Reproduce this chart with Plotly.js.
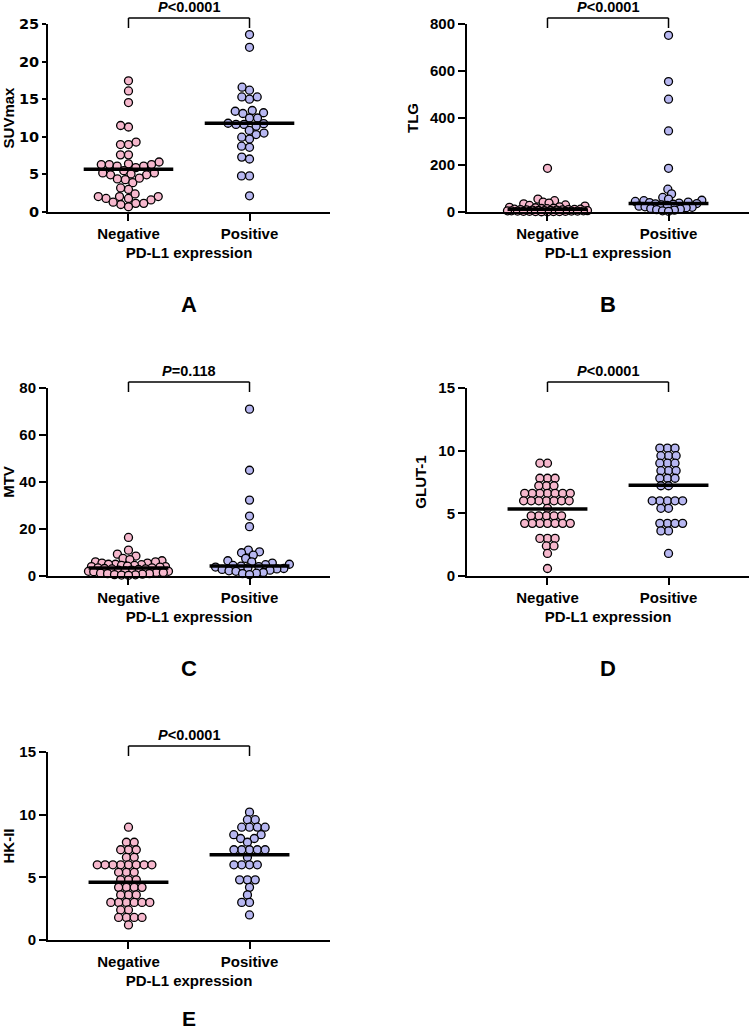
<!DOCTYPE html>
<html><head><meta charset="utf-8">
<script src="https://cdn.plot.ly/plotly-3.0.1.min.js"></script>
<style>html,body{margin:0;padding:0;background:#fff}#chart{width:751px;height:1030px}</style>
</head><body><div id="chart"></div>
<script>
// ---------- data ----------
const groups = ['Negative', 'Positive'];
const xTitle = 'PD-L1 expression';
const panelLetters = ['A', 'B', 'C', 'D', 'E'];
const yTitles = ['SUVmax', 'TLG', 'MTV', 'GLUT-1', 'HK-II'];
const pLabels = ['&lt;0.0001', '&lt;0.0001', '=0.118', '&lt;0.0001', '&lt;0.0001'];
const yMax = [25, 800, 80, 15, 15];
const yDtick = [5, 200, 20, 5, 5];

const suvNeg = [17.45, 16.1, 14.55, 11.3, 11.5, 8.97, 8.97, 9.3, 7.6, 7.6, 6.3, 6.4, 6.1, 6.65, 6.3, 5.9, 6.3, 6.1,
  4.95, 5.2, 5.2, 5.5, 4.95, 5.05, 4.3, 3.9, 4.4, 4.5, 3.0, 3.2, 1.8, 2.05, 2.05, 1.6, 1.8, 2.4, 2.05, 1.0, 1.15, 1.3, 0.7, 1.15];
const suvPos = [23.6, 21.9, 16.6, 16.2, 15.3, 15.3, 15.0, 13.4, 13.1, 13.2, 13.5, 12.5, 12.5, 11.65, 11.65, 11.75, 11.8, 11.4,
  10.5, 10.3, 10.85, 9.95, 9.7, 8.75, 8.6, 7.3, 7.05, 4.8, 4.8, 2.15];

const tlgNeg = [186, 55, 48, 42, 38, 35, 30, 28, 25, 22, 20, 18, 16, 15, 14, 12, 12, 11, 10, 10, 9, 9, 8, 8, 7, 7, 6, 6,
  5, 5, 5, 4, 4, 4, 3, 3, 3, 2, 2, 2, 1, 1];
const tlgPos = [752, 555, 480, 345, 186, 97, 77, 62, 55, 50, 48, 45, 42, 40, 38, 36, 35, 33, 30, 28, 25, 22, 20, 18, 15,
  12, 10, 8, 5, 3];

const mtvNeg = [16.4, 11, 9.3, 8.5, 7.5, 7, 6.5, 6, 6, 5.5, 5.5, 5, 5, 4.8, 4.5, 4.5, 4.2, 4, 4, 3.8, 3.5, 3.5, 3.2, 3, 3,
  2.8, 2.5, 2.5, 2.2, 2, 2, 1.8, 1.5, 1.5, 1.2, 1, 1, 0.8, 0.6, 0.5, 0.4, 0.3];
const mtvPos = [71, 45, 32.3, 25.5, 21, 11, 10.3, 9.9, 8.9, 7.5, 6.5, 6, 5.5, 5, 4.8, 4.5, 4.2, 4, 3.8, 3.5, 3.2, 3, 2.8,
  2.5, 2.2, 2, 1.5, 1.2, 1, 0.6];

const glutNeg = [9.0, 9.0, 7.8, 7.8, 7.8, 7.2, 7.2, 7.2, 6.6, 6.6, 6.6, 6.6, 6.6, 6.6, 6.6, 6.0, 6.0, 6.0, 6.0, 6.0, 6.0, 6.0,
  5.4, 4.8, 4.8, 4.8, 4.8, 4.8, 4.2, 4.2, 4.2, 4.2, 4.2, 4.2, 4.2, 3.0, 3.0, 3.0, 2.4, 2.4, 1.8, 0.6];
const glutPos = [10.2, 10.2, 10.2, 9.6, 9.6, 9.6, 9.0, 9.0, 9.0, 8.4, 8.4, 8.4, 7.8, 7.8, 7.8, 7.2, 7.2, 6.0, 6.0, 6.0, 6.0, 6.0,
  5.4, 5.4, 4.2, 4.2, 4.2, 4.2, 3.6, 3.6, 1.8];

const hkNeg = [9.0, 7.8, 7.8, 7.2, 7.2, 7.2, 6.6, 6.6, 6.0, 6.0, 6.0, 6.0, 6.0, 6.0, 6.0, 6.0, 5.4, 5.4, 5.4, 4.8, 4.8, 4.8,
  4.2, 4.2, 4.2, 4.2, 3.6, 3.6, 3.6, 3.0, 3.0, 3.0, 3.0, 3.0, 3.0, 2.4, 2.4, 1.8, 1.8, 1.8, 1.8, 1.2];
const hkPos = [10.2, 9.6, 9.6, 9.0, 9.0, 9.0, 9.0, 8.4, 8.4, 8.1, 8.1, 7.8, 7.2, 7.2, 7.2, 7.2, 7.2, 6.6, 6.0, 6.0, 6.0, 6.0,
  4.8, 4.8, 4.8, 4.2, 3.6, 3.0, 3.0, 2.0];

const negSeries = [suvNeg, tlgNeg, mtvNeg, glutNeg, hkNeg];
const posSeries = [suvPos, tlgPos, mtvPos, glutPos, hkPos];
const medNeg = [5.7, 12, 3.4, 5.35, 4.6];
const medPos = [11.8, 36, 4.3, 7.25, 6.8];

// ---------- style / geometry ----------
const W = 751, H = 1030;
const FONT = 'Liberation Sans, Arial, Helvetica, sans-serif';
const pink = '#f6b8cd', blue = '#b7b7f1';
const xRange = [-0.665, 1.665];
const cols = [[48, 330], [467, 749]];
const rowTop = [24, 388, 752], plotH = 188;
const swarmDist = [8, 6, 7, 7.6, 7.8];
const swarmCap = [46, 40, 40, 44, 44];
const medHalf = [0.37, 0.33, 0.33, 0.33, 0.33];
const letterShift = [-92, -92, -92, -92, -78];

function swarm(values, pxPerY, D, cap) {
  const idx = values.map((v, i) => i).sort((a, b) => values[a] - values[b]);
  const placed = [], xs = new Array(values.length);
  for (const i of idx) {
    const y = values[i] * pxPerY;
    const nb = placed.filter(p => Math.abs(p.y - y) < D);
    const cands = [0];
    nb.forEach(p => { const dx = Math.sqrt(D * D - (p.y - y) ** 2); cands.push(p.x + dx, p.x - dx); });
    cands.sort((a, b) => (Math.abs(a) - Math.abs(b)) || (a - b));
    let best = null;
    for (const c of cands) {
      if (nb.every(p => (p.x - c) ** 2 + (p.y - y) ** 2 >= D * D - 1e-6)) { best = c; break; }
    }
    if (best === null || Math.abs(best) > cap) {
      let bestScore = -1, bx = 0;
      for (let c = -cap; c <= cap + 1e-9; c += 0.5) {
        let md = Infinity;
        nb.forEach(p => { md = Math.min(md, Math.hypot(p.x - c, p.y - y)); });
        if (md > bestScore + 1e-9 || (Math.abs(md - bestScore) < 1e-9 && Math.abs(c) < Math.abs(bx))) { bestScore = md; bx = c; }
      }
      best = bx;
    }
    placed.push({ x: best, y }); xs[i] = best;
  }
  return xs;
}

const data = [], layout = {
  width: W, height: H, margin: { l: 0, r: 0, t: 0, b: 0 },
  paper_bgcolor: '#fff', plot_bgcolor: '#fff', showlegend: false,
  font: { family: FONT, color: '#000' },
  shapes: [], annotations: []
};

for (let k = 0; k < 5; k++) {
  const col = k % 2, row = Math.floor(k / 2);
  const [x0, x1] = cols[col];
  const top = rowTop[row], bot = top + plotH;
  const n = k === 0 ? '' : String(k + 1);
  const xa = 'x' + n, ya = 'y' + n;
  const pxPerY = plotH / yMax[k];
  const pxPerCat = (x1 - x0) / (xRange[1] - xRange[0]);
  [negSeries[k], posSeries[k]].forEach((vals, g) => {
    const off = swarm(vals, pxPerY, swarmDist[k], swarmCap[k]);
    data.push({
      type: 'scatter', mode: 'markers', xaxis: xa, yaxis: ya, cliponaxis: false,
      x: off.map(o => g + o / pxPerCat), y: vals, name: groups[g],
      marker: { size: 8, color: g === 0 ? pink : blue, line: { color: '#000', width: 1.3 } },
      hoverinfo: 'y'
    });
  });
  const h = medHalf[k];
  data.push({
    type: 'scatter', mode: 'lines', xaxis: xa, yaxis: ya, cliponaxis: false,
    x: [0 - h, 0 + h, null, 1 - h, 1 + h], y: [medNeg[k], medNeg[k], null, medPos[k], medPos[k]],
    line: { color: '#000', width: 3.5 }, hoverinfo: 'skip'
  });

  const axBase = { showline: true, linecolor: '#000', linewidth: 2, ticks: 'outside', tickcolor: '#000',
    tickwidth: 2, showgrid: false, zeroline: false, fixedrange: true };
  layout['xaxis' + n] = Object.assign({}, axBase, {
    domain: [x0 / W, x1 / W], anchor: ya, range: xRange, tickvals: [0, 1], ticktext: groups,
    ticklen: 7, ticklabelstandoff: 0,
    tickfont: { family: FONT, size: 15, weight: 'bold', color: '#000' },
    title: { text: xTitle, standoff: 6, font: { family: FONT, size: 15, weight: 'bold', color: '#000' } }
  });
  layout['yaxis' + n] = Object.assign({}, axBase, {
    domain: [1 - bot / H, 1 - top / H], anchor: xa, range: [0, yMax[k]], dtick: yDtick[k], tick0: 0,
    ticklen: k === 0 ? 4 : 7,
    tickfont: k === 0 ? { family: 'DejaVu Sans', size: 14.5, weight: 'bold', color: '#000' }
                      : { family: FONT, size: 15, weight: 'bold', color: '#000' },
    title: { text: yTitles[k], standoff: 8, font: { family: FONT, size: 15, weight: 'bold', color: '#000' } }
  });

  // significance bracket
  const fx = c => (c - xRange[0]) / (xRange[1] - xRange[0]);
  const yb = 1 + 6 / plotH, yl = 1 - 4 / plotH;
  const sref = { xref: xa + ' domain', yref: ya + ' domain', line: { color: '#000', width: 1.5 } };
  layout.shapes.push(Object.assign({ type: 'line', x0: fx(0), x1: fx(1), y0: yb, y1: yb }, sref));
  layout.shapes.push(Object.assign({ type: 'line', x0: fx(0), x1: fx(0), y0: yb, y1: yl }, sref));
  layout.shapes.push(Object.assign({ type: 'line', x0: fx(1), x1: fx(1), y0: yb, y1: yl }, sref));
  layout.annotations.push({
    xref: xa + ' domain', yref: ya + ' domain', x: fx(0.5), y: 1, yshift: 17, yanchor: 'middle',
    xanchor: 'center', showarrow: false, text: '<i>P</i>' + pLabels[k],
    font: { family: FONT, size: 14.5, weight: 'bold', color: '#000' }
  });
  layout.annotations.push({
    xref: xa + ' domain', yref: ya + ' domain', x: fx(0.5), y: 0, yshift: letterShift[k], yanchor: 'middle',
    xanchor: 'center', showarrow: false, text: panelLetters[k],
    font: { family: FONT, size: k === 4 ? 21 : 22, weight: 'bold', color: '#000' }
  });
}

Plotly.newPlot('chart', data, layout, { displayModeBar: false, staticPlot: true });
</script></body></html>
